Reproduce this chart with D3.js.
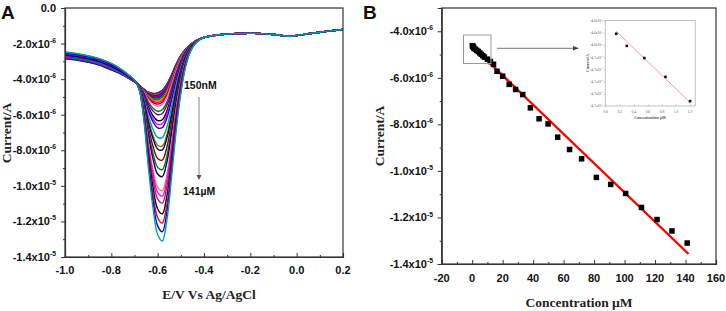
<!DOCTYPE html>
<html><head><meta charset="utf-8">
<script src="https://cdn.jsdelivr.net/npm/d3@7"></script>
<style>body{margin:0;background:#fff}svg{display:block}</style>
</head><body>
<svg id="c" width="726" height="311"></svg>
<script>
// ---------- Panel A data (currents in 1e-6 A) ----------
const potentials = [-1.00,-0.95,-0.90,-0.85,-0.80,-0.76,-0.72,-0.70,-0.68,-0.66,-0.64,-0.62,-0.60,-0.58,-0.56,-0.54,-0.52,-0.50,-0.48,-0.46,-0.44,-0.42,-0.40,-0.35,-0.30,-0.25,-0.20,-0.15,-0.10,-0.05,-0.03,0.00,0.05,0.10,0.15,0.20];
const blankCurrent = [-2.65,-2.72,-2.85,-3.02,-3.28,-3.55,-3.90,-4.10,-4.32,-4.48,-4.55,-4.52,-4.42,-4.25,-3.95,-3.50,-3.00,-2.58,-2.28,-2.05,-1.88,-1.75,-1.66,-1.53,-1.47,-1.43,-1.42,-1.44,-1.49,-1.57,-1.59,-1.55,-1.45,-1.36,-1.28,-1.20];
const peakProfile = [0,0,0,0,0,0,0,0,0.03,0.20,0.50,0.76,0.94,1.00,0.90,0.68,0.44,0.25,0.12,0.05,0.018,0.005,0,0,0,0,0,0,0,0,0,0,0,0,0,0];
const leftWeight  = [1,1,1,1,1,0.8,0.5,0.3,0.1,0,0,0,0,0,0,0,0,0,0,0,0,0,0,0,0,0,0,0,0,0,0,0,0,0,0,0];
const peakBase = -4.25;

// ---------- Panel B data ----------
const concentrations = [0.15,0.3,0.55,0.85,1.2,2,3,4,5,6,7,8,10,12,14,16.3,20,24.3,28.5,33.2,38.2,43.9,49.8,56.1,63.9,71.8,81.5,90.9,100.7,111.1,121.3,131.1,141.1];
const peakCurrents = [-4.62,-4.64,-4.66,-4.69,-4.73,-4.77,-4.82,-4.87,-4.93,-4.99,-5.05,-5.11,-5.20,-5.30,-5.42,-5.72,-5.93,-6.28,-6.50,-6.72,-7.29,-7.76,-7.98,-8.55,-9.08,-9.48,-10.28,-10.58,-10.97,-11.57,-12.09,-12.58,-13.10];
const curveDrift = [-0.20,-0.15,-0.18,-0.10,-0.12,-0.05,-0.16,-0.08,-0.02,-0.11,0.00,-0.06,0.03,-0.04,0.05,-0.09,0.02,0.07,-0.03,0.08,0.04,0.10,-0.01,0.09,0.12,0.06,0.11,0.14,0.08,0.13,0.15,0.10,0.16];
const curveColors = ["#000000","#ff0000","#0000ff","#ff00ff","#808000","#000080","#8000ff","#800080","#800000","#008080","#008000","#ff8000","#ff0080",
  "#800000","#ff66cc","#008000","#800080","#000000","#ff00ff","#0000ff","#00a0a0","#808000","#000080","#800000","#008000","#000080","#ff8040","#ff00ff","#a020a0","#000000","#ff0000","#0000ff","#00a0a0"];
const fitConc = [0, 142];
const fitCurrent = [-4.64, -13.57];

// ---------- Inset data ----------
const insetConc = [0.15, 0.3, 0.55, 0.85, 1.2];
const insetCurrent = [-4.621, -4.641, -4.661, -4.692, -4.732];
const insetFitConc = [0.15, 1.2];
const insetFitCurrent = [-4.617, -4.734];

// ---------- Ticks ----------
const xTicksA = [-1.0,-0.8,-0.6,-0.4,-0.2,0.0,0.2];
const xMinorA = [-0.9,-0.7,-0.5,-0.3,-0.1,0.1];
const yTicksA = [0,-2,-4,-6,-8,-10,-12,-14];
const yMinorA = [-1,-3,-5,-7,-9,-11,-13];
const xTicksB = [-20,0,20,40,60,80,100,120,140,160];
const xMinorB = [-10,10,30,50,70,90,110,130,150];
const yTicksB = [-4,-6,-8,-10,-12,-14];
const yMinorB = [-3,-5,-7,-9,-11,-13];
const xTicksI = [0,0.2,0.4,0.6,0.8,1.0,1.2];
const yTicksI = [-4.60,-4.62,-4.64,-4.66,-4.68,-4.70,-4.72,-4.74];

const svg = d3.select("#c");
svg.append("rect").attr("width",726).attr("height",311).attr("fill","#fff");
const SANS = "'Liberation Sans', Arial, Helvetica, sans-serif";
const SERIF = "'Liberation Serif', 'Times New Roman', serif";
const FRAME = "#333";

function sciLabel(g, v, x, y, size, anchor) {
  // v in units of 1e-6 A
  const t = g.append("text").attr("x", x).attr("y", y).attr("text-anchor", anchor || "end")
    .attr("font-family", SANS).attr("font-weight", "bold").attr("font-size", size).attr("fill", "#111");
  if (v === 0) { t.text("0.0"); return t; }
  const val = v * 1e-6;
  const ex = Math.floor(Math.log10(Math.abs(val)) + 1e-9);
  const man = val / Math.pow(10, ex);
  t.append("tspan").text(man.toFixed(1) + "x10");
  t.append("tspan").attr("dy", -size * 0.45).attr("font-size", size * 0.62).text(String(ex));
  return t;
}

// =============== PANEL A ===============
const xA = d3.scaleLinear([-1.0, 0.2], [65, 343]);
const yA = d3.scaleLinear([-14, 0], [257, 8]);
const gA = svg.append("g");

const line = d3.line().curve(d3.curveCatmullRom.alpha(0.5));
concentrations.forEach((c, i) => {
  const depth = peakCurrents[i] - peakBase;
  const pts = potentials.map((e, k) => [xA(e), yA(blankCurrent[k] + depth * peakProfile[k] + curveDrift[i] * leftWeight[k])]);
  gA.append("path").attr("d", line(pts)).attr("fill", "none")
    .attr("stroke", curveColors[i]).attr("stroke-width", 1.4);
});

// frame
gA.append("rect").attr("x", 65).attr("y", 8).attr("width", 278).attr("height", 249)
  .attr("fill", "none").attr("stroke", FRAME).attr("stroke-width", 1.2);
// axes
gA.append("g").attr("transform", "translate(0,257)")
  .call(d3.axisBottom(xA).tickValues(xTicksA).tickSize(-4).tickFormat(""))
  .call(g => g.select(".domain").attr("stroke", FRAME).attr("stroke-width", 1.2))
  .call(g => g.selectAll(".tick line").attr("stroke", FRAME));
gA.append("g").attr("transform", "translate(0,257)")
  .call(d3.axisBottom(xA).tickValues(xMinorA).tickSize(-2).tickFormat(""))
  .call(g => g.select(".domain").remove())
  .call(g => g.selectAll(".tick line").attr("stroke", FRAME));
gA.append("g").attr("transform", "translate(65,0)")
  .call(d3.axisLeft(yA).tickValues(yTicksA).tickSize(4).tickFormat(""))
  .call(g => g.select(".domain").attr("stroke", FRAME).attr("stroke-width", 1.2))
  .call(g => g.selectAll(".tick line").attr("stroke", FRAME));
gA.append("g").attr("transform", "translate(65,0)")
  .call(d3.axisLeft(yA).tickValues(yMinorA).tickSize(2).tickFormat(""))
  .call(g => g.select(".domain").remove())
  .call(g => g.selectAll(".tick line").attr("stroke", FRAME));

xTicksA.forEach(v => {
  gA.append("text").attr("x", xA(v)).attr("y", 274).attr("text-anchor", "middle")
    .attr("font-family", SANS).attr("font-weight", "bold").attr("font-size", 11).attr("fill", "#111")
    .text(v.toFixed(1));
});
yTicksA.forEach(v => sciLabel(gA, v, 56, yA(v) + 4, 11));

gA.append("text").attr("x", 209).attr("y", 299).attr("text-anchor", "middle")
  .attr("font-family", SERIF).attr("font-weight", "bold").attr("font-size", 13.5).attr("fill", "#222")
  .text("E/V Vs Ag/AgCl");
gA.append("text").attr("transform", "translate(11,133) rotate(-90)").attr("text-anchor", "middle")
  .attr("font-family", SERIF).attr("font-weight", "bold").attr("font-size", 13.5).attr("fill", "#222")
  .text("Current/A");
gA.append("text").attr("x", 1).attr("y", 19).attr("font-family", SANS).attr("font-weight", "bold")
  .attr("font-size", 19).attr("fill", "#111").text("A");

// annotation
gA.append("text").attr("x", 184).attr("y", 89).attr("font-family", SANS).attr("font-weight", "bold")
  .attr("font-size", 10.5).attr("fill", "#111").text("150nM");
gA.append("text").attr("x", 183).attr("y", 195).attr("font-family", SANS).attr("font-weight", "bold")
  .attr("font-size", 10.5).attr("fill", "#111").text("141µM");
gA.append("line").attr("x1", 199).attr("x2", 199).attr("y1", 97).attr("y2", 176)
  .attr("stroke", "#888").attr("stroke-width", 1);
gA.append("path").attr("d", "M196.5,175 L201.5,175 L199,180 Z").attr("fill", "#555");

// =============== PANEL B ===============
const xB = d3.scaleLinear([-20, 160], [441.7, 716]);
const yB = d3.scaleLinear([-14, -3], [264, 8]);
const gB = svg.append("g");

gB.append("rect").attr("x", 441.7).attr("y", 8).attr("width", 716 - 441.7).attr("height", 256)
  .attr("fill", "none").attr("stroke", FRAME).attr("stroke-width", 1.2);
gB.append("g").attr("transform", "translate(0,264)")
  .call(d3.axisBottom(xB).tickValues(xTicksB).tickSize(-4).tickFormat(""))
  .call(g => g.select(".domain").attr("stroke", FRAME).attr("stroke-width", 1.2))
  .call(g => g.selectAll(".tick line").attr("stroke", FRAME));
gB.append("g").attr("transform", "translate(0,264)")
  .call(d3.axisBottom(xB).tickValues(xMinorB).tickSize(-2).tickFormat(""))
  .call(g => g.select(".domain").remove())
  .call(g => g.selectAll(".tick line").attr("stroke", FRAME));
gB.append("g").attr("transform", "translate(441.7,0)")
  .call(d3.axisLeft(yB).tickValues(yTicksB).tickSize(4).tickFormat(""))
  .call(g => g.select(".domain").attr("stroke", FRAME).attr("stroke-width", 1.2))
  .call(g => g.selectAll(".tick line").attr("stroke", FRAME));
gB.append("g").attr("transform", "translate(441.7,0)")
  .call(d3.axisLeft(yB).tickValues(yMinorB).tickSize(2).tickFormat(""))
  .call(g => g.select(".domain").remove())
  .call(g => g.selectAll(".tick line").attr("stroke", FRAME));

xTicksB.forEach(v => {
  gB.append("text").attr("x", xB(v)).attr("y", 282).attr("text-anchor", "middle")
    .attr("font-family", SANS).attr("font-weight", "bold").attr("font-size", 11).attr("fill", "#111")
    .text(String(v));
});
yTicksB.forEach(v => sciLabel(gB, v, 433, yB(v) + 4, 11));

gB.append("text").attr("x", 579).attr("y", 307).attr("text-anchor", "middle")
  .attr("font-family", SERIF).attr("font-weight", "bold").attr("font-size", 13.5).attr("fill", "#222")
  .text("Concentration µM");
gB.append("text").attr("transform", "translate(384,136) rotate(-90)").attr("text-anchor", "middle")
  .attr("font-family", SERIF).attr("font-weight", "bold").attr("font-size", 13.5).attr("fill", "#222")
  .text("Current/A");
gB.append("text").attr("x", 363).attr("y", 19).attr("font-family", SANS).attr("font-weight", "bold")
  .attr("font-size", 19).attr("fill", "#111").text("B");

// fit line
gB.append("line").attr("x1", xB(fitConc[0])).attr("y1", yB(fitCurrent[0]))
  .attr("x2", xB(fitConc[1])).attr("y2", yB(fitCurrent[1]))
  .attr("stroke", "#ff0000").attr("stroke-width", 2.4);
// squares
const sq = 5.5;
gB.selectAll("rect.pt").data(concentrations).join("rect").attr("class", "pt")
  .attr("x", (d) => xB(d) - sq / 2).attr("y", (d, i) => yB(peakCurrents[i]) - sq / 2)
  .attr("width", sq).attr("height", sq).attr("fill", "#000");

// zoom box and arrow
gB.append("rect").attr("x", 463.5).attr("y", 35).attr("width", 27.5).attr("height", 28.5)
  .attr("fill", "none").attr("stroke", "#999").attr("stroke-width", 1);
gB.append("line").attr("x1", 497).attr("x2", 574).attr("y1", 48.3).attr("y2", 48.3)
  .attr("stroke", "#777").attr("stroke-width", 1);
gB.append("path").attr("d", "M573,46 L579,48.3 L573,50.6 Z").attr("fill", "#444");

// inset
const xI = d3.scaleLinear([0, 1.27], [605.7, 695]);
const yI = d3.scaleLinear([-4.74, -4.60], [106, 21]);
const gI = svg.append("g");
gI.append("rect").attr("x", 605.2).attr("y", 20.5).attr("width", 90).attr("height", 85.5)
  .attr("fill", "#fff").attr("stroke", "#aaa").attr("stroke-width", 0.7);
gI.append("g").attr("transform", "translate(0,106)")
  .call(d3.axisBottom(xI).tickValues(xTicksI).tickSize(-1.5).tickFormat(""))
  .call(g => g.select(".domain").remove())
  .call(g => g.selectAll(".tick line").attr("stroke", "#999").attr("stroke-width", 0.5));
gI.append("g").attr("transform", "translate(605.2,0)")
  .call(d3.axisLeft(yI).tickValues(yTicksI).tickSize(1.5).tickFormat(""))
  .call(g => g.select(".domain").remove())
  .call(g => g.selectAll(".tick line").attr("stroke", "#999").attr("stroke-width", 0.5));
xTicksI.forEach(v => {
  gI.append("text").attr("x", xI(v)).attr("y", 112.5).attr("text-anchor", "middle")
    .attr("font-family", SERIF).attr("font-size", 3.6).attr("fill", "#555").text(v.toFixed(1));
});
yTicksI.forEach(v => sciLabel(gI, v, 603, yI(v) + 1.2, 3.6).attr("font-weight", "normal")
  .attr("font-family", SERIF).attr("fill", "#555"));
gI.append("text").attr("x", 650).attr("y", 119).attr("text-anchor", "middle")
  .attr("font-family", SERIF).attr("font-weight", "bold").attr("font-size", 4).attr("fill", "#555")
  .text("Concentration µM");
gI.append("text").attr("transform", "translate(589,63) rotate(-90)").attr("text-anchor", "middle")
  .attr("font-family", SERIF).attr("font-weight", "bold").attr("font-size", 4).attr("fill", "#555")
  .text("Current/A");
gI.append("line").attr("x1", xI(insetFitConc[0])).attr("y1", yI(insetFitCurrent[0]))
  .attr("x2", xI(insetFitConc[1])).attr("y2", yI(insetFitCurrent[1]))
  .attr("stroke", "#ff9aa0").attr("stroke-width", 1);
gI.selectAll("rect.ip").data(insetConc).join("rect").attr("class", "ip")
  .attr("x", d => xI(d) - 1.3).attr("y", (d, i) => yI(insetCurrent[i]) - 1.3)
  .attr("width", 2.6).attr("height", 2.6).attr("fill", "#111");
</script>
</body></html>
